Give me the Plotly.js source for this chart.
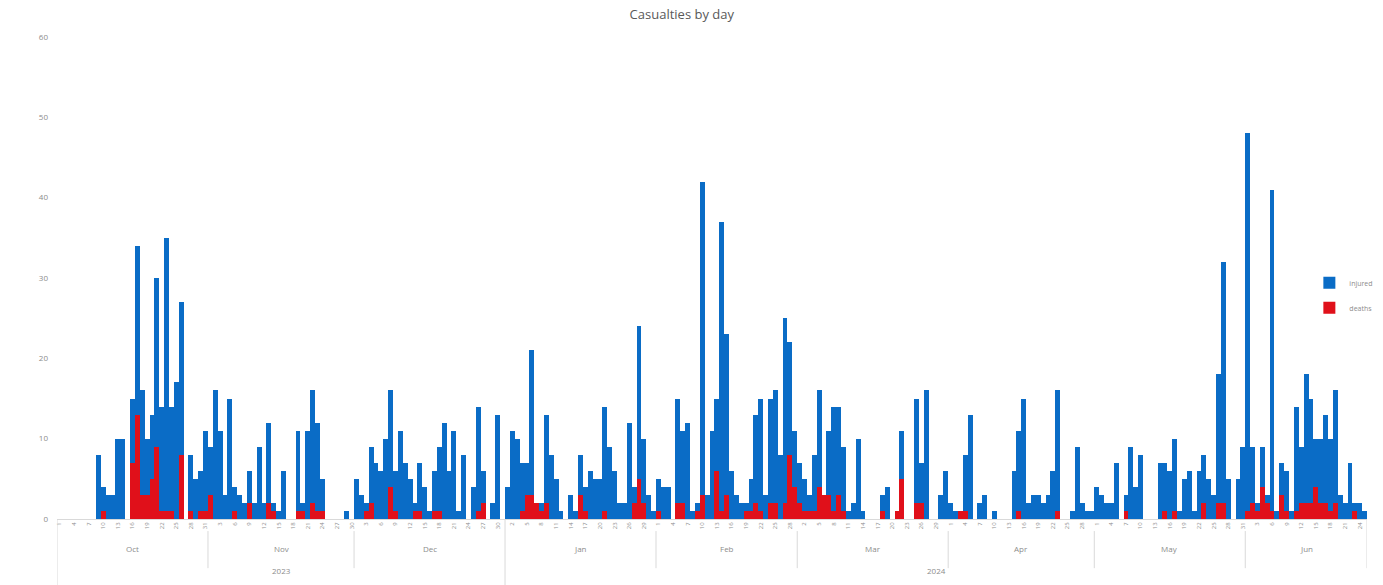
<!DOCTYPE html>
<html><head><meta charset="utf-8">
<script src="https://cdn.plot.ly/plotly-3.0.1.min.js"></script>
<style>html,body{margin:0;padding:0;background:#fff}#chart{width:1383px;height:585px}</style>
</head><body><div id="chart"></div>
<script>
// Categories
const monthNames = ['Oct','Nov','Dec','Jan','Feb','Mar','Apr','May','Jun'];
const monthYears = ['2023','2023','2023','2024','2024','2024','2024','2024','2024'];
const monthStart = ['2023-10-01','2023-11-01','2023-12-01','2024-01-01','2024-02-01','2024-03-01','2024-04-01','2024-05-01','2024-06-01'];
const seriesNames = ['injured','deaths'];

// Blue series (bar tops), one value per day
const blueOct = [0,0,0,0,0,0,0,0,8,4,3,3,10,10,0,15,34,16,10,13,30,14,35,14,17,27,0,8,5,6,11];
const blueNov = [9,16,11,3,15,4,3,2,6,2,9,2,12,2,1,6,0,0,11,2,11,16,12,5,0,0,0,0,1,0];
const blueDec = [5,3,2,9,7,6,10,16,6,11,7,5,2,7,4,1,6,9,12,6,11,1,8,0,4,14,6,0,2,13,0];
const blueJan = [4,11,10,7,7,21,2,2,13,8,5,1,0,3,1,8,4,6,5,5,14,9,6,2,2,12,4,24,10,3,1];
const blueFeb = [5,4,4,0,15,11,12,1,2,42,3,11,15,37,23,6,3,2,2,5,13,15,3,15,16,8,25,22,11];
const blueMar = [7,5,3,8,16,3,11,14,14,9,1,2,10,1,0,0,0,3,4,0,1,11,0,0,15,7,16,0,0,3,6];
const blueApr = [2,1,1,8,13,0,2,3,0,1,0,0,0,6,11,15,2,3,3,2,3,6,16,0,0,1,9,2,1,1];
const blueMay = [4,3,2,2,7,0,3,9,4,8,0,0,0,7,7,6,10,1,5,6,1,6,8,5,3,18,32,5,0,5,9];
const blueJun = [48,9,2,9,3,41,1,7,6,1,14,9,18,15,10,10,13,10,16,3,2,7,2,2,1];

// Red series, one value per day
const redOct = [0,0,0,0,0,0,0,0,0,1,0,0,0,0,0,7,13,3,3,5,9,1,1,1,0,8,0,1,0,1,1];
const redNov = [3,0,0,0,0,1,0,0,2,0,0,0,2,1,0,0,0,0,1,1,0,2,1,1,0,0,0,0,0,0];
const redDec = [0,0,1,2,0,0,0,4,1,0,0,0,1,1,0,0,1,1,0,0,0,0,0,0,0,1,2,0,0,0,0];
const redJan = [0,0,0,1,3,3,2,1,2,0,0,0,0,0,0,3,1,0,0,0,1,0,0,0,0,0,2,5,2,0,0];
const redFeb = [1,0,0,0,2,2,0,0,1,3,0,0,6,1,3,0,0,0,1,1,2,1,0,2,2,0,2,8,4];
const redMar = [2,1,1,1,4,3,3,1,3,1,0,0,0,0,0,0,0,1,0,0,1,5,0,0,2,2,0,0,0,0,0];
const redApr = [0,0,1,1,0,0,0,0,0,0,0,0,0,0,1,0,0,0,0,0,0,0,1,0,0,0,0,0,0,0];
const redMay = [0,0,0,0,0,0,1,0,0,0,0,0,0,0,1,0,1,0,0,0,0,0,2,0,0,2,2,0,0,0,0];
const redJun = [1,2,1,4,2,1,0,3,1,0,1,2,2,2,4,2,2,1,2,0,0,0,1,0,0];

const blueByMonth = [blueOct,blueNov,blueDec,blueJan,blueFeb,blueMar,blueApr,blueMay,blueJun];
const redByMonth = [redOct,redNov,redDec,redJan,redFeb,redMar,redApr,redMay,redJun];

const DAY = 86400000;
function toMs(s){ const p=s.split('-'); return Date.UTC(+p[0], +p[1]-1, +p[2]); }
function fmt(ms){ return new Date(ms).toISOString().replace('T',' ').slice(0,19); }

const dates = [], blue = [], red = [];
blueByMonth.forEach((arr, i) => {
  arr.forEach((v, k) => {
    dates.push(monthStart[i].slice(0,8) + String(k+1).padStart(2,'0'));
    blue.push(v);
    red.push(redByMonth[i][k]);
  });
});

const firstMs = toMs(dates[0]);
const lastMs = toMs(dates[dates.length-1]);
const xStart = fmt(firstMs - DAY/2);
const xEnd = fmt(lastMs + DAY/2);

const grey = '#8c8c8c';
const annotations = [], shapes = [];
// Month labels and separators
blueByMonth.forEach((arr, i) => {
  const s = toMs(monthStart[i]);
  const mid = s - DAY/2 + arr.length*DAY/2;
  annotations.push({x: fmt(mid), xref:'x', y:-0.077, yref:'paper', text: monthNames[i], showarrow:false,
    font:{size:8, color:grey, family:'Open Sans, Liberation Sans, sans-serif'}});
  if (i > 0 && monthYears[i] === monthYears[i-1]) {
    shapes.push({type:'line', xref:'x', yref:'paper', x0: fmt(s - DAY/2), x1: fmt(s - DAY/2), y0:-0.025, y1:-0.102,
      line:{color:'#d9d9d9', width:1}});
  }
});
// Year labels and long separators
const yearList = [...new Set(monthYears)];
yearList.forEach(y => {
  const idx = monthYears.map((m,i)=>m===y?i:-1).filter(i=>i>=0);
  const s = toMs(monthStart[idx[0]]) - DAY/2;
  const lastIdx = idx[idx.length-1];
  const e = toMs(monthStart[lastIdx]) + blueByMonth[lastIdx].length*DAY - DAY/2;
  annotations.push({x: fmt((s+e)/2), xref:'x', y:-0.122, yref:'paper', text: y, showarrow:false,
    font:{size:8, color:grey, family:'Open Sans, Liberation Sans, sans-serif'}});
  shapes.push({type:'line', xref:'x', yref:'paper', x0: fmt(s), x1: fmt(s), y0:0, y1:-0.14,
    line:{color:'#d9d9d9', width:1}});
});
shapes.push({type:'line', xref:'x', yref:'paper', x0: xEnd, x1: xEnd, y0:0, y1:-0.102, line:{color:'#d9d9d9', width:1}});

const traces = [
  {type:'bar', x: dates, y: blue, name: seriesNames[0], marker:{color:'#0a6cc6', line:{width:0}}, legendgroup:'a'},
  {type:'bar', x: dates, y: red, name: seriesNames[1], marker:{color:'#e0101a', line:{width:0}}, legendgroup:'b'}
];

const layout = {
  width:1383, height:585,
  margin:{l:57, r:16, t:37, b:66, autoexpand:false},
  paper_bgcolor:'#fff', plot_bgcolor:'#fff',
  font:{family:'Open Sans, Liberation Sans, sans-serif', color:grey},
  title:{text:'Casualties by day', x:0.493, xref:'container', y:0.975, yref:'container', yanchor:'middle',
    font:{size:13, color:'#595959'}},
  barmode:'overlay', bargap:0,
  xaxis:{type:'date', range:[xStart, xEnd], tick0: dates[0], dtick: 3*DAY, tickformat:'%-d', tickangle:-90,
    tickfont:{size:6, color:grey}, showgrid:false, zeroline:false, showline:true, linecolor:'#d9d9d9', linewidth:1,
    ticks:'', fixedrange:true, automargin:false},
  yaxis:{range:[0,60], tickvals:[0,10,20,30,40,50,60], showgrid:false, zeroline:false, showline:false,
    tickfont:{size:8, color:grey}, ticks:'', ticklabelstandoff:8, automargin:false},
  showlegend:true,
  legend:{x:0.956, xanchor:'left', y:0.52, yanchor:'top', bgcolor:'rgba(0,0,0,0)', font:{size:7, color:grey},
    traceorder:'grouped', tracegroupgap:6},
  annotations, shapes
};

Plotly.newPlot('chart', traces, layout, {displayModeBar:false, staticPlot:true});
</script>
</body></html>
